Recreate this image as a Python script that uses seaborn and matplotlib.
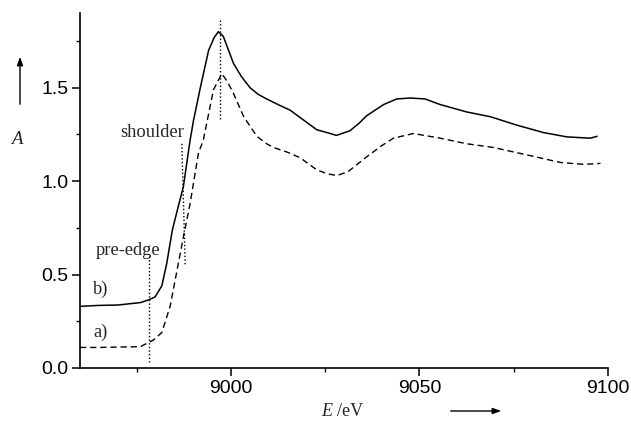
import matplotlib
matplotlib.use("Agg")
import matplotlib.pyplot as plt
import seaborn as sns
import pandas as pd

# ---- data ----
energy_b = [8960, 8965, 8970, 8976.0, 8978.1, 8979.9, 8981.7, 8983.0, 8984.5, 8986.0,
            8987.4, 8989.2, 8990.1, 8991.9, 8994.1, 8995.6, 8996.7, 8998.0,
            9000.7, 9002.8, 9005.1, 9007.2, 9009.5, 9012.5, 9015.7, 9018.4, 9022.8,
            9025.5, 9028.0, 9031.6, 9034.0, 9036.0, 9040.5, 9044.0, 9047.6, 9051.5,
            9055.5, 9062.6, 9068.8, 9075.8, 9082.9, 9089.1, 9095.3, 9097.1]
absorb_b = [0.33, 0.335, 0.337, 0.35, 0.364, 0.38, 0.44, 0.56, 0.74, 0.86,
            0.97, 1.22, 1.325, 1.50, 1.70, 1.77, 1.80, 1.775,
            1.63, 1.56, 1.50, 1.465, 1.44, 1.41, 1.38, 1.34, 1.275,
            1.26, 1.245, 1.27, 1.31, 1.35, 1.41, 1.44, 1.445, 1.44,
            1.41, 1.37, 1.345, 1.30, 1.26, 1.237, 1.23, 1.24]

energy_a = [8960, 8965, 8970, 8976.0, 8979.5, 8981.7, 8983.9, 8985.7, 8987.4,
            8989.2, 8991.4, 8992.7, 8995.4, 8997.6, 8999.0, 9000.7, 9003.4,
            9006.9, 9009.5, 9011.3, 9015.0, 9018.4, 9022.8, 9025.5, 9028.1,
            9031.0, 9036.0, 9040.0, 9043.1, 9048.4, 9055.5, 9062.6, 9069.7, 9078.6,
            9087.4, 9093.5, 9098.0]
absorb_a = [0.11, 0.11, 0.112, 0.114, 0.15, 0.19, 0.33, 0.52, 0.70,
            0.88, 1.15, 1.22, 1.49, 1.575, 1.535, 1.47, 1.345,
            1.24, 1.20, 1.18, 1.155, 1.125, 1.06, 1.04, 1.03,
            1.05, 1.13, 1.19, 1.23, 1.255, 1.23, 1.20, 1.18, 1.14,
            1.10, 1.09, 1.095]

# dotted marker lines: (x_top, y_top, x_bottom, y_bottom)
preedge_line = [8978.4, 0.60, 8978.4, 0.03]
shoulder_line = [8987.0, 1.20, 8987.9, 0.55]
peak_line = [8997.0, 1.86, 8997.0, 1.32]

x_ticks = [9000, 9050, 9100]
y_ticks = [0.0, 0.5, 1.0, 1.5]
y_tick_labels = ["0.0", "0.5", "1.0", "1.5"]

sns.set_theme(style="white")
plt.rcParams["font.family"] = ["Liberation Sans", "DejaVu Sans"]

fig = plt.figure(figsize=(6.31, 4.21), dpi=100)
ax = fig.add_axes([80 / 631, 1 - 368 / 421, (608 - 80) / 631, (368 - 13) / 421])

df_b = pd.DataFrame({"E": energy_b, "A": absorb_b})
df_a = pd.DataFrame({"E": energy_a, "A": absorb_a})
sns.lineplot(data=df_b, x="E", y="A", ax=ax, color="black", lw=1.1, sort=False,
             estimator=None)
sns.lineplot(data=df_a, x="E", y="A", ax=ax, color="black", lw=1.0, sort=False,
             estimator=None, linestyle=(0, (4.5, 2.8)))

for ln in (preedge_line, shoulder_line, peak_line):
    ax.plot([ln[0], ln[2]], [ln[1], ln[3]], color="black", lw=1.0,
            linestyle=(0, (1, 1.6)))

ax.set_xlim(8960, 9100)
ax.set_ylim(0, 1.90)
ax.set_xticks(x_ticks)
ax.set_xticks([8975, 9025, 9075], minor=True)
ax.set_yticks(y_ticks)
ax.set_yticklabels(y_tick_labels)
ax.set_yticks([0.25, 0.75, 1.25, 1.75], minor=True)
ax.set_xlabel("")
ax.set_ylabel("")

for s in ("top", "right"):
    ax.spines[s].set_visible(False)
for s in ("left", "bottom"):
    ax.spines[s].set_color("black")
    ax.spines[s].set_linewidth(1.2)

ax.tick_params(which="major", direction="out", length=6, width=1.1, colors="black",
               labelsize=14, left=True, bottom=True, pad=2.5)
ax.tick_params(which="minor", direction="out", length=3, width=1.0, colors="black",
               left=True, bottom=True)

serif = ["Liberation Serif", "DejaVu Serif"]
ax.text(8979.1, 1.26, "shoulder", family=serif, fontsize=13.3, ha="center", va="center")
ax.text(8972.8, 0.63, "pre-edge", family=serif, fontsize=13.3, ha="center", va="center")
ax.text(8965.5, 0.42, "b)", family=serif, fontsize=13.3, ha="center", va="center")
ax.text(8965.5, 0.19, "a)", family=serif, fontsize=13.3, ha="center", va="center")

# axis titles with arrows
fig.text(17 / 631, 1 - 139 / 421, "A", family=serif, style="italic", fontsize=13.5,
         ha="center", va="center")
fig.add_artist(matplotlib.patches.FancyArrowPatch(
    (20 / 631, 1 - 107 / 421), (20 / 631, 1 - 54 / 421), transform=fig.transFigure,
    arrowstyle="-|>,head_length=5,head_width=1.8", color="black", lw=1.0,
    mutation_scale=1))
fig.text(321.5 / 631, 1 - 416.5 / 421, "E", family=serif, style="italic", fontsize=13,
         ha="left", va="baseline")
fig.text(337 / 631, 1 - 416.5 / 421, "/eV", family=serif, fontsize=13,
         ha="left", va="baseline")
fig.add_artist(matplotlib.patches.FancyArrowPatch(
    (448 / 631, 1 - 411 / 421), (504 / 631, 1 - 411 / 421), transform=fig.transFigure,
    arrowstyle="-|>,head_length=5,head_width=1.8", color="black", lw=1.0,
    mutation_scale=1))

fig.savefig("out.png", dpi=100)
